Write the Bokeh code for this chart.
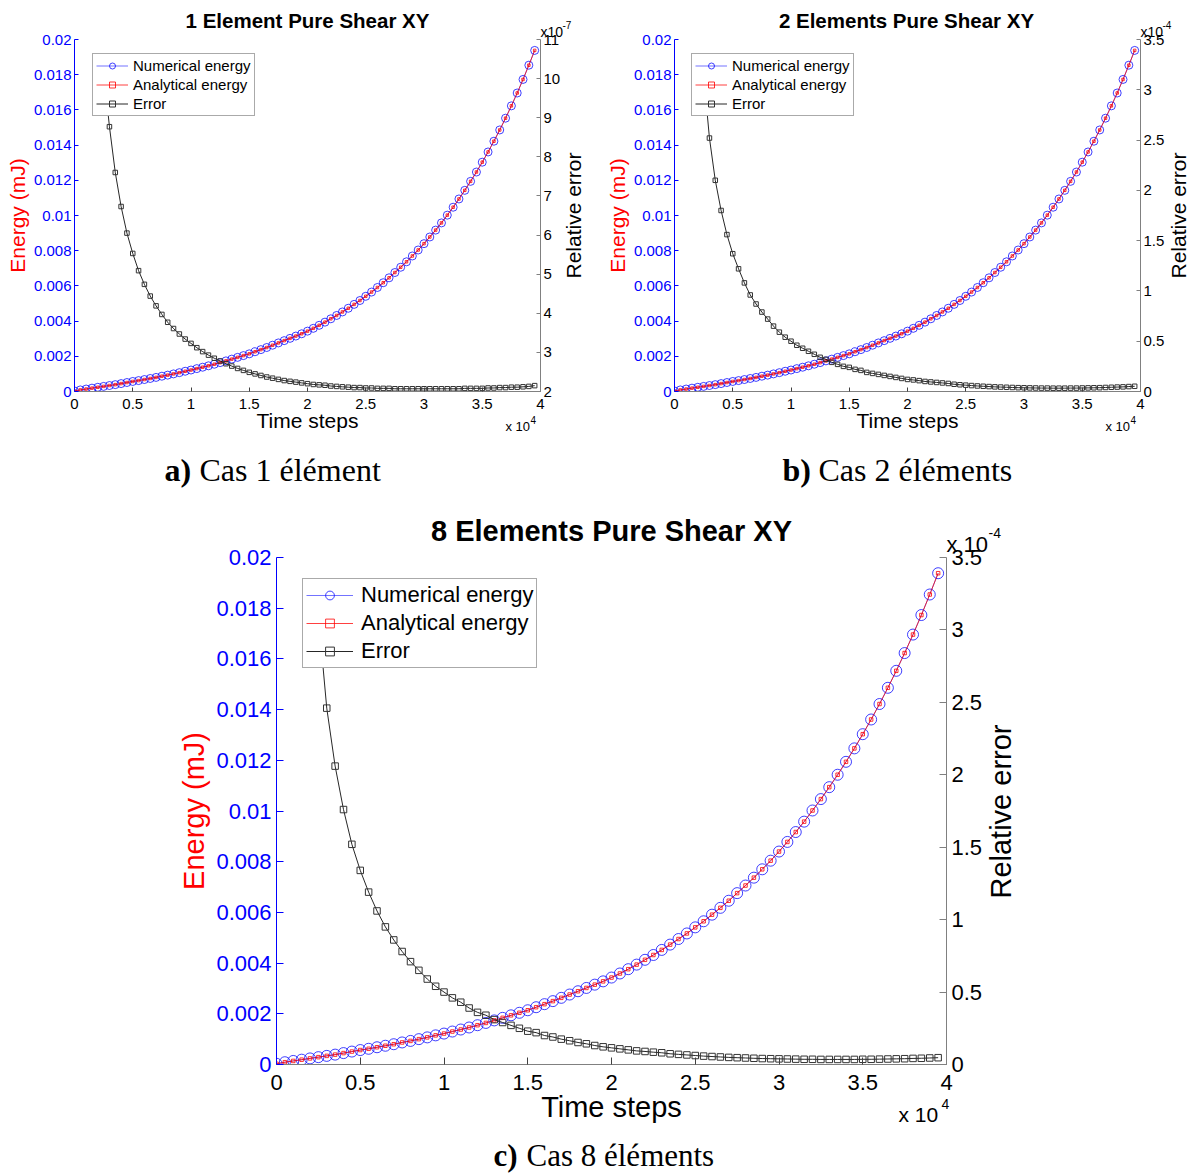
import math
from bokeh.plotting import figure
from bokeh.models import (Range1d, LinearAxis, FixedTicker, Legend, LegendItem)
from bokeh.layouts import column, row
from bokeh.core.properties import value
from bokeh.embed import file_html
from bokeh.resources import INLINE

NAN = float("nan")

# ---------------- data ----------------
time_steps = [0, 500, 1000, 1500, 2000, 2500, 3000, 3500, 4000, 4500,
              5000, 5500, 6000, 6500, 7000, 7500, 8000, 8500, 9000, 9500,
              10000, 10500, 11000, 11500, 12000, 12500, 13000, 13500, 14000, 14500,
              15000, 15500, 16000, 16500, 17000, 17500, 18000, 18500, 19000, 19500,
              20000, 20500, 21000, 21500, 22000, 22500, 23000, 23500, 24000, 24500,
              25000, 25500, 26000, 26500, 27000, 27500, 28000, 28500, 29000, 29500,
              30000, 30500, 31000, 31500, 32000, 32500, 33000, 33500, 34000, 34500,
              35000, 35500, 36000, 36500, 37000, 37500, 38000, 38500, 39000, 39500]

analytical_energy = [0.00003, 0.00009, 0.00014, 0.00019, 0.00024, 0.00029, 0.00034, 0.00039, 0.00045, 0.00051,
                     0.00057, 0.00062, 0.00068, 0.00074, 0.00080, 0.00087, 0.00093, 0.00100, 0.00107, 0.00115,
                     0.00122, 0.00130, 0.00138, 0.00146, 0.00155, 0.00164, 0.00174, 0.00184, 0.00194, 0.00204,
                     0.00214, 0.00226, 0.00238, 0.00250, 0.00263, 0.00276, 0.00289, 0.00302, 0.00315, 0.00328,
                     0.00343, 0.00359, 0.00376, 0.00394, 0.00413, 0.00432, 0.00452, 0.00473, 0.00495, 0.00517,
                     0.00541, 0.00565, 0.00591, 0.00618, 0.00646, 0.00676, 0.00706, 0.00737, 0.00770, 0.00804,
                     0.00840, 0.00878, 0.00917, 0.00958, 0.01002, 0.01047, 0.01094, 0.01143, 0.01194, 0.01247,
                     0.01303, 0.01361, 0.01422, 0.01486, 0.01553, 0.01623, 0.01696, 0.01773, 0.01854, 0.01938]

numerical_energy = [0.00003, 0.00009, 0.00014, 0.00019, 0.00024, 0.00029, 0.00034, 0.00039, 0.00045, 0.00051,
                    0.00057, 0.00062, 0.00068, 0.00074, 0.00080, 0.00087, 0.00093, 0.00100, 0.00107, 0.00115,
                    0.00122, 0.00130, 0.00138, 0.00146, 0.00155, 0.00164, 0.00174, 0.00184, 0.00194, 0.00204,
                    0.00214, 0.00226, 0.00238, 0.00250, 0.00263, 0.00276, 0.00289, 0.00302, 0.00315, 0.00328,
                    0.00343, 0.00359, 0.00376, 0.00394, 0.00413, 0.00432, 0.00452, 0.00473, 0.00495, 0.00517,
                    0.00541, 0.00565, 0.00591, 0.00618, 0.00646, 0.00676, 0.00706, 0.00737, 0.00770, 0.00804,
                    0.00840, 0.00878, 0.00917, 0.00958, 0.01002, 0.01047, 0.01094, 0.01143, 0.01194, 0.01247,
                    0.01303, 0.01361, 0.01422, 0.01486, 0.01553, 0.01623, 0.01696, 0.01773, 0.01854, 0.01938]

# relative error, 1 element (x 1e-7)
error_1_element = [NAN, NAN, NAN, NAN, NAN, 10.2, 8.77, 7.60, 6.73, 6.05,
                   5.53, 5.09, 4.74, 4.44, 4.19, 3.97, 3.77, 3.61, 3.47, 3.34,
                   3.23, 3.12, 3.02, 2.93, 2.85, 2.78, 2.71, 2.65, 2.59, 2.54,
                   2.49, 2.45, 2.41, 2.37, 2.34, 2.31, 2.28, 2.26, 2.24, 2.22,
                   2.20, 2.18, 2.17, 2.16, 2.14, 2.13, 2.12, 2.11, 2.10, 2.10,
                   2.09, 2.09, 2.08, 2.08, 2.08, 2.07, 2.07, 2.07, 2.07, 2.07,
                   2.07, 2.07, 2.07, 2.07, 2.07, 2.07, 2.07, 2.08, 2.08, 2.08,
                   2.08, 2.09, 2.09, 2.10, 2.10, 2.11, 2.11, 2.12, 2.13, 2.15]

# relative error, 2 elements (x 1e-4)
error_2_elements = [NAN, NAN, NAN, NAN, NAN, 3.15, 2.52, 2.10, 1.80, 1.56,
                    1.37, 1.22, 1.08, 0.96, 0.87, 0.79, 0.72, 0.65, 0.59, 0.54,
                    0.50, 0.46, 0.43, 0.40, 0.37, 0.34, 0.32, 0.29, 0.27, 0.25,
                    0.24, 0.22, 0.21, 0.19, 0.18, 0.17, 0.16, 0.15, 0.14, 0.13,
                    0.12, 0.115, 0.108, 0.100, 0.095, 0.090, 0.085, 0.080, 0.072, 0.067,
                    0.063, 0.059, 0.055, 0.052, 0.049, 0.046, 0.044, 0.042, 0.040, 0.038,
                    0.037, 0.036, 0.035, 0.034, 0.034, 0.033, 0.033, 0.033, 0.034, 0.034,
                    0.035, 0.036, 0.037, 0.038, 0.040, 0.042, 0.044, 0.046, 0.049, 0.052]

# relative error, 8 elements (x 1e-4)
error_8_elements = [NAN, NAN, NAN, NAN, NAN, 3.10, 2.46, 2.06, 1.76, 1.52,
                    1.34, 1.19, 1.06, 0.95, 0.86, 0.78, 0.71, 0.65, 0.59, 0.54,
                    0.50, 0.46, 0.43, 0.39, 0.36, 0.34, 0.31, 0.29, 0.27, 0.25,
                    0.23, 0.22, 0.20, 0.19, 0.175, 0.164, 0.152, 0.143, 0.131, 0.122,
                    0.115, 0.108, 0.101, 0.094, 0.090, 0.085, 0.081, 0.074, 0.070, 0.066,
                    0.062, 0.058, 0.055, 0.052, 0.049, 0.047, 0.045, 0.043, 0.041, 0.040,
                    0.039, 0.038, 0.037, 0.036, 0.036, 0.035, 0.035, 0.035, 0.035, 0.035,
                    0.036, 0.036, 0.037, 0.038, 0.039, 0.040, 0.042, 0.043, 0.045, 0.047]

x_ticks = [0, 5000, 10000, 15000, 20000, 25000, 30000, 35000, 40000]
x_tick_labels = ["0", "0.5", "1", "1.5", "2", "2.5", "3", "3.5", "4"]
energy_ticks = [0, 0.002, 0.004, 0.006, 0.008, 0.01, 0.012, 0.014, 0.016, 0.018, 0.02]
energy_tick_labels = ["0", "0.002", "0.004", "0.006", "0.008", "0.01", "0.012", "0.014", "0.016", "0.018", "0.02"]
err1_ticks = [2, 3, 4, 5, 6, 7, 8, 9, 10, 11]
err1_tick_labels = ["2", "3", "4", "5", "6", "7", "8", "9", "10", "11"]
err4_ticks = [0, 0.5, 1, 1.5, 2, 2.5, 3, 3.5]
err4_tick_labels = ["0", "0.5", "1", "1.5", "2", "2.5", "3", "3.5"]

titles = ["1 Element Pure Shear XY", "2 Elements Pure Shear XY", "8 Elements Pure Shear XY"]
caption_tags = ["a)", "b)", "c)"]
caption_texts = ["Cas 1 élément", "Cas 2 éléments", "Cas 8 éléments"]

FONT = "Liberation Sans"
SERIF = "Liberation Serif"

SMALL = dict(tick="15px", axlab="21px", legend="15px", circle=8, dot=2.5, sq=4.5,
             tick_len=4, glyph_w=32, glyph_h=15, spacing=2, padding=3, label_standoff=5,
             tick_standoff=7, ytick_standoff=3, ylab_standoff=2, xlab_standoff=-3)
BIG = dict(tick="22px", axlab="29px", legend="22px", circle=11, dot=3.5, sq=6.5,
           tick_len=7, glyph_w=47, glyph_h=22, spacing=2, padding=3, label_standoff=8,
           tick_standoff=10, ytick_standoff=5, ylab_standoff=3, xlab_standoff=-2)


def make_panel(err_vals, err_lo, err_hi, err_ticks, err_labels, g, s):
    p = figure(frame_width=g["fw"], frame_height=g["fh"],
               min_border_left=g["bl"], min_border_right=g["br"],
               min_border_top=g["bt"], min_border_bottom=g["bb"],
               x_range=Range1d(0, 40000), y_range=Range1d(0, 0.02),
               output_backend="svg", toolbar_location=None, tools="")
    p.outline_line_color = None
    p.grid.visible = False
    p.background_fill_color = "white"
    p.border_fill_color = "white"

    p.extra_y_ranges = {"err": Range1d(err_lo, err_hi)}

    xa = p.xaxis[0]
    xa.ticker = FixedTicker(ticks=x_ticks)
    xa.major_label_overrides = dict(zip(x_ticks, x_tick_labels))
    xa.axis_label = "Time steps"
    xa.axis_label_text_font = FONT
    xa.axis_label_text_font_size = s["axlab"]
    xa.axis_label_text_font_style = "normal"
    xa.axis_label_text_color = "black"
    xa.axis_label_standoff = s["xlab_standoff"]
    xa.major_label_text_font = FONT
    xa.major_label_text_font_size = s["tick"]
    xa.major_label_text_color = "black"
    xa.major_label_standoff = s["tick_standoff"]
    xa.axis_line_color = "#808080"
    xa.major_tick_line_color = "#404040"
    xa.major_tick_in = s["tick_len"]
    xa.major_tick_out = 0
    xa.minor_tick_line_color = None

    ya = p.yaxis[0]
    ya.ticker = FixedTicker(ticks=energy_ticks)
    ya.major_label_overrides = dict(zip(energy_ticks, energy_tick_labels))
    ya.axis_label = "Energy (mJ)"
    ya.axis_label_text_font = FONT
    ya.axis_label_text_font_size = s["axlab"]
    ya.axis_label_text_font_style = "normal"
    ya.axis_label_text_color = "#ff0000"
    ya.axis_label_standoff = s["ylab_standoff"]
    ya.major_label_text_font = FONT
    ya.major_label_text_font_size = s["tick"]
    ya.major_label_text_color = "#0000ff"
    ya.major_label_standoff = s["ytick_standoff"]
    ya.axis_line_color = "#0000ff"
    ya.major_tick_line_color = "#0000ff"
    ya.major_tick_in = s["tick_len"]
    ya.major_tick_out = 0
    ya.minor_tick_line_color = None

    ra = LinearAxis(y_range_name="err")
    ra.ticker = FixedTicker(ticks=err_ticks)
    ra.major_label_overrides = dict(zip(err_ticks, err_labels))
    ra.major_label_text_font = FONT
    ra.major_label_text_font_size = s["tick"]
    ra.major_label_text_color = "black"
    ra.major_label_standoff = s["ytick_standoff"]
    ra.axis_line_color = "#808080"
    ra.major_tick_line_color = "#808080"
    ra.major_tick_in = s["tick_len"]
    ra.major_tick_out = 0
    ra.minor_tick_line_color = None
    p.add_layout(ra, "right")

    l_num = p.line(time_steps, numerical_energy, line_color="#0000ff", line_width=1, line_alpha=0.55)
    s_num = p.scatter(time_steps, numerical_energy, marker="circle", size=s["circle"],
                      line_color="#0000ff", line_alpha=0.75, fill_color=None, line_width=1)
    l_ana = p.line(time_steps, analytical_energy, line_color="#ff0000", line_width=1, line_alpha=0.75)
    s_ana = p.scatter(time_steps, analytical_energy, marker="square", size=s["dot"],
                      line_color="#ff0000", fill_color=None, line_width=0.8)
    l_err = p.line(time_steps, err_vals, y_range_name="err", line_color="black", line_width=1, line_alpha=0.85)
    s_err = p.scatter(time_steps, err_vals, y_range_name="err", marker="square", size=s["sq"],
                      line_color="#333333", fill_color=None, line_width=1)

    legend = Legend(items=[LegendItem(label="Numerical energy", renderers=[l_num, s_num]),
                           LegendItem(label="Analytical energy", renderers=[l_ana, s_ana]),
                           LegendItem(label="Error", renderers=[l_err, s_err])],
                    location=g["legend_loc"])
    legend.label_text_font = FONT
    legend.label_text_font_size = s["legend"]
    legend.label_text_color = "black"
    legend.glyph_width = s["glyph_w"]
    legend.glyph_height = s["glyph_h"]
    legend.label_height = s["glyph_h"]
    legend.label_standoff = s["label_standoff"]
    legend.spacing = s["spacing"]
    legend.padding = s["padding"]
    legend.margin = 0
    legend.border_line_color = "#555555"
    legend.border_line_width = 1
    legend.background_fill_color = "white"
    legend.background_fill_alpha = 1.0
    p.add_layout(legend)
    return p


g1 = dict(fw=466, fh=352, bl=74, br=60, bt=39, bb=104, legend_loc=(18, 275))
g2 = dict(fw=466, fh=352, bl=74, br=50, bt=39, bb=104, legend_loc=(17, 275))
g3 = dict(fw=670, fh=507, bl=276, br=244, bt=62, bb=109, legend_loc=(26, 396))

p1 = make_panel(error_1_element, 2, 11, err1_ticks, err1_tick_labels, g1, SMALL)
p2 = make_panel(error_2_elements, 0, 3.5, err4_ticks, err4_tick_labels, g2, SMALL)
p3 = make_panel(error_8_elements, 0, 3.5, err4_ticks, err4_tick_labels, g3, BIG)

# ---------- transparent overlay (pulled up over the panels) for texts outside the frames ----------
PAGE_W, PAGE_H = 1190, 1173
ov = figure(width=PAGE_W, height=PAGE_H, x_range=Range1d(0, PAGE_W), y_range=Range1d(PAGE_H, 0),
            x_axis_type=None, y_axis_type=None, min_border=0,
            output_backend="svg", toolbar_location=None, tools="")
ov.outline_line_color = None
ov.grid.visible = False
ov.background_fill_alpha = 0
ov.border_fill_alpha = 0


def otext(xs, ys, texts, font, size, style="normal", align="left", angle=0.0):
    ov.text(x=xs, y=ys, text=texts, text_font=value(font), text_font_size=value(size),
            text_font_style=value(style), text_align=value(align), text_baseline=value("middle"),
            text_color="black", angle=angle)


# panel titles
otext([307, 906], [20, 20], titles[:2], FONT, "20.5px", style="bold", align="center")
otext([611], [530], titles[2:], FONT, "29px", style="bold", align="center")

# right axis labels (reading bottom to top, as in the reference)
otext([573, 1178], [215, 215], ["Relative error", "Relative error"], FONT, "21px",
      align="center", angle=math.pi / 2)
otext([1000], [811], ["Relative error"], FONT, "29px", align="center", angle=math.pi / 2)

# exponent annotations
otext([540, 1140], [31, 31], ["x10", "x10"], FONT, "14px")
otext([562, 1162], [24, 24], ["-7", "-4"], FONT, "10px")
otext([505, 1105], [426, 426], ["x 10", "x 10"], FONT, "13px")
otext([530, 1130], [419, 419], ["4", "4"], FONT, "10px")
otext([946], [544], ["x 10"], FONT, "22px")
otext([988], [532], ["-4"], FONT, "14px")
otext([898], [1114], ["x 10"], FONT, "21px")
otext([941], [1103], ["4"], FONT, "14px")

# captions
otext([164, 782], [469, 469], caption_tags[:2], SERIF, "32px", style="bold")
otext([199, 818], [469, 469], caption_texts[:2], SERIF, "32px")
otext([493], [1155], caption_tags[2:], SERIF, "31px", style="bold")
otext([526], [1155], caption_texts[2:], SERIF, "31px")

layout = column(row(p1, p2), p3, row(ov, margin=(-PAGE_H, 0, 0, 0)))
open("out.html", "w").write(file_html(layout, INLINE))
